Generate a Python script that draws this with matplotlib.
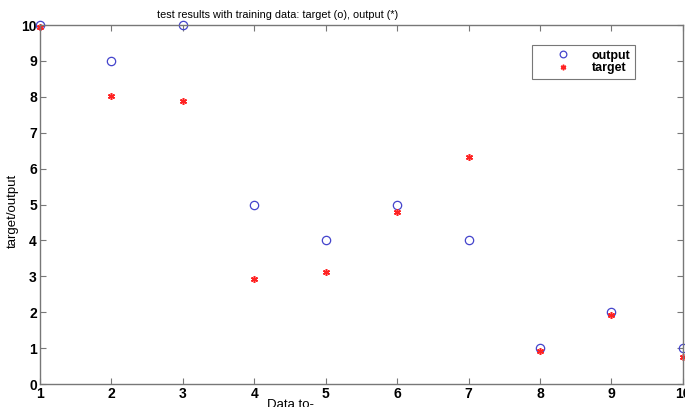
import matplotlib as mpl
mpl.use('Agg')
import matplotlib.pyplot as plt

x = [1, 2, 3, 4, 5, 6, 7, 8, 9, 10]
output = [10, 9, 10, 5, 4, 5, 4, 1, 2, 1]
target = [9.95, 8.02, 7.87, 2.93, 3.13, 4.8, 6.33, 0.92, 1.92, 0.75]
yticks = [0, 1, 2, 3, 4, 5, 6, 7, 8, 9, 10]

plt.rcParams['font.family'] = ['Liberation Sans', 'DejaVu Sans']

fig = plt.figure(figsize=(6.85, 4.07), dpi=100)
ax = fig.add_axes([0.058, 0.0565, 0.939, 0.882])

# matlab style: open circles and line asterisks
ax.plot(x, output, 'o', mfc='none', mec='#4444cc', ms=6, mew=0.9, label='output', clip_on=False)
ax.plot(x, target, marker=(6, 2, 0), ls='none', color='#ff2222', ms=5, mew=1.1,
        label='target', clip_on=False)

ax.set_xlim(1, 10)
ax.set_ylim(0, 10)
ax.set_xticks(x)
ax.set_yticks(yticks)
for s in ax.spines.values():
    s.set_color('#777777')
    s.set_linewidth(1.0)
ax.tick_params(direction='in', top=True, right=True, length=4, color='#777777',
               labelsize=10, pad=2)
for lab in ax.get_xticklabels() + ax.get_yticklabels():
    lab.set_fontweight('bold')

ax.set_title('test results with training data: target (o), output (*)', fontsize=7.8,
             pad=5, x=0.369)
ax.set_xlabel('Data to-', fontsize=9.5)
ax.xaxis.set_label_coords(0.39, -0.042)
ax.set_ylabel('target/output', fontsize=9.5)
ax.yaxis.set_label_coords(-0.033, 0.482)

leg = ax.legend(loc='upper right', bbox_to_anchor=(0.925, 0.944), fontsize=9,
                frameon=True, fancybox=False, borderpad=0.35, handletextpad=0.12,
                labelspacing=0.05, handlelength=4.3, markerscale=0.8,
                borderaxespad=0)
leg.get_frame().set_edgecolor('#555555')
leg.get_frame().set_linewidth(0.8)
for t in leg.get_texts():
    t.set_fontweight('bold')

fig.savefig('out.png', dpi=100)
